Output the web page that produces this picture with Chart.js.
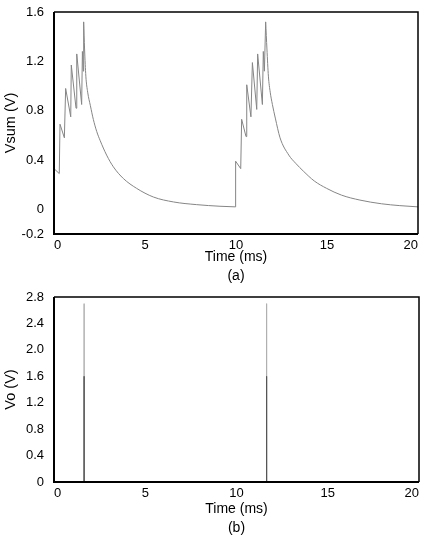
<!DOCTYPE html>
<html>
<head>
<meta charset="utf-8">
<script src="https://cdn.jsdelivr.net/npm/chart.js@4/dist/chart.umd.min.js"></script>
<style>
  html, body { margin: 0; padding: 0; background: #fff; }
  body { width: 422px; height: 538px; position: relative; overflow: hidden; }
  .box { position: absolute; left: 0; width: 422px; }
</style>
</head>
<body>
<div class="box" style="top:0;height:290px"><canvas id="ca" width="422" height="290"></canvas></div>
<div class="box" style="top:290px;height:248px"><canvas id="cb" width="422" height="248"></canvas></div>
<script>
// ---- Data ----
const xTickValues = [0, 5, 10, 15, 20];
const xTickLabels = ['0', '5', '10', '15', '20'];

// (a) Vsum vs time
const vsumTime = [0, 0.29, 0.33, 0.57, 0.64, 0.92, 0.95, 1.21, 1.25, 1.52, 1.56, 1.61, 1.63,
  1.68, 1.75, 1.85, 2.0, 2.16, 2.35, 2.53, 2.89, 3.26, 3.81, 4.54, 5.46, 6.56, 7.84, 9.12, 9.97,
  9.98, 10.26, 10.31, 10.55, 10.59, 10.82, 10.90, 11.14, 11.19, 11.45, 11.50, 11.56, 11.63,
  11.70, 11.78, 11.88, 12.0, 12.16, 12.42, 12.9, 13.3, 13.7, 14.3, 14.98, 15.8, 16.81, 18.0, 19.0, 20.0];
const vsumValues = [0.33, 0.29, 0.69, 0.58, 0.98, 0.75, 1.17, 0.82, 1.26, 0.85, 1.28, 1.12, 1.52,
  1.30, 1.08, 0.95, 0.84, 0.73, 0.63, 0.56, 0.44, 0.345, 0.25, 0.17, 0.10, 0.06, 0.038, 0.025, 0.02,
  0.39, 0.33, 0.73, 0.59, 1.01, 0.75, 1.19, 0.81, 1.26, 0.85, 1.28, 1.12, 1.52,
  1.30, 1.08, 0.95, 0.85, 0.74, 0.58, 0.44, 0.37, 0.31, 0.23, 0.17, 0.115, 0.075, 0.045, 0.03, 0.02];
// index ranges of the sawtooth bursts (drawn with straight segments); the rest is the smooth decay
const burstRanges = [[0, 12], [28, 41]];
const decayRanges = [[12, 28], [41, 57]];
const yTickValuesA = [-0.2, 0, 0.4, 0.8, 1.2, 1.6];
const yTickLabelsA = ['-0.2', '0', '0.4', '0.8', '1.2', '1.6'];

// (b) Vo vs time
const voTime = [0, 1.65, 1.65, 1.65, 11.65, 11.65, 11.65, 20];
const voPeakValues = [0, 0, 2.7, 0, 0, 2.7, 0, 0];
const voCoreValues = [0, 0, 1.6, 0, 0, 1.6, 0, 0];
const yTickValuesB = [0, 0.4, 0.8, 1.2, 1.6, 2.0, 2.4, 2.8];
const yTickLabelsB = ['0', '0.4', '0.8', '1.2', '1.6', '2.0', '2.4', '2.8'];

Chart.defaults.font.family = "'Liberation Sans', Arial, sans-serif";
Chart.defaults.color = '#000';

const frame = {
  id: 'frame',
  afterDatasetsDraw(chart) {
    const a = chart.chartArea, ctx = chart.ctx;
    ctx.save();
    ctx.strokeStyle = '#000';
    ctx.lineWidth = 1.5;
    ctx.beginPath();
    ctx.moveTo(a.left, a.top); ctx.lineTo(a.right, a.top); ctx.lineTo(a.right, a.bottom);
    ctx.stroke();
    ctx.lineWidth = 2;
    ctx.beginPath();
    ctx.moveTo(a.left, a.top); ctx.lineTo(a.left, a.bottom); ctx.lineTo(a.right, a.bottom);
    ctx.stroke();
    ctx.restore();
  }
};

function pts(xs, ys) { return xs.map((x, i) => ({ x: x, y: ys[i] })); }
function rangedPts(xs, ys, ranges) {
  const out = [];
  ranges.forEach((r, k) => {
    if (k > 0) out.push({ x: xs[r[0]], y: null });
    for (let i = r[0]; i <= r[1]; i++) out.push({ x: xs[i], y: ys[i] });
  });
  return out;
}

function makeChart(id, datasets, yVals, yLabels, yMin, yMax, yTitle, xTitle, opt) {
  return new Chart(document.getElementById(id), {
    type: 'line',
    data: { datasets: datasets },
    options: {
      responsive: false,
      animation: false,
      events: [],
      spanGaps: false,
      layout: { padding: { top: opt.top, right: opt.right, left: 0, bottom: 0 } },
      plugins: { legend: { display: false }, tooltip: { enabled: false } },
      elements: { point: { radius: 0 }, line: { tension: 0, borderWidth: 1 } },
      scales: {
        x: {
          type: 'linear', min: 0, max: 20,
          grid: { display: false, drawTicks: false },
          border: { display: false },
          afterBuildTicks: s => { s.ticks = xTickValues.map(v => ({ value: v })); },
          ticks: {
            padding: opt.xTickPad, maxRotation: 0, autoSkip: false,
            align: 'inner',
            font: { size: 13 },
            callback: (v) => xTickLabels[xTickValues.indexOf(v)]
          },
          title: {
            display: true, text: xTitle,
            font: { size: 14, lineHeight: 1.35 },
            padding: { top: 0, bottom: opt.xTitlePad }
          },
          afterFit: s => { s.height = 56; s.paddingLeft = 0; s.paddingRight = 0; }
        },
        y: {
          type: 'linear', min: yMin, max: yMax,
          grid: { display: false, drawTicks: false },
          border: { display: false },
          afterBuildTicks: s => { s.ticks = yVals.map(v => ({ value: v })); },
          ticks: {
            padding: 10, autoSkip: false,
            font: { size: 13 },
            callback: (v) => yLabels[yVals.findIndex(t => Math.abs(t - v) < 1e-9)]
          },
          title: {
            display: true, text: yTitle,
            font: { size: 14.5 },
            padding: { top: 2, bottom: 0 }
          },
          afterFit: s => { s.width = 54; s.paddingTop = 0; s.paddingBottom = 0; }
        }
      }
    },
    plugins: [frame]
  });
}

makeChart('ca', [
  { data: rangedPts(vsumTime, vsumValues, burstRanges), borderColor: '#858585', borderWidth: 1 },
  { data: rangedPts(vsumTime, vsumValues, decayRanges), borderColor: '#858585', borderWidth: 1, cubicInterpolationMode: 'monotone' }
], yTickValuesA, yTickLabelsA, -0.2, 1.6, 'Vsum (V)', ['Time (ms)', '(a)'],
  { top: 12, right: 4, xTickPad: 4, xTitlePad: 4.5 });

makeChart('cb', [
  { data: pts(voTime, voCoreValues), borderColor: '#555555', borderWidth: 1 },
  { data: pts(voTime, voPeakValues), borderColor: '#b0b0b0', borderWidth: 1 }
], yTickValuesB, yTickLabelsB, 0, 2.8, 'Vo (V)', ['Time (ms)', '(b)'],
  { top: 7, right: 3, xTickPad: 4, xTitlePad: 0.5 });
</script>
</body>
</html>
